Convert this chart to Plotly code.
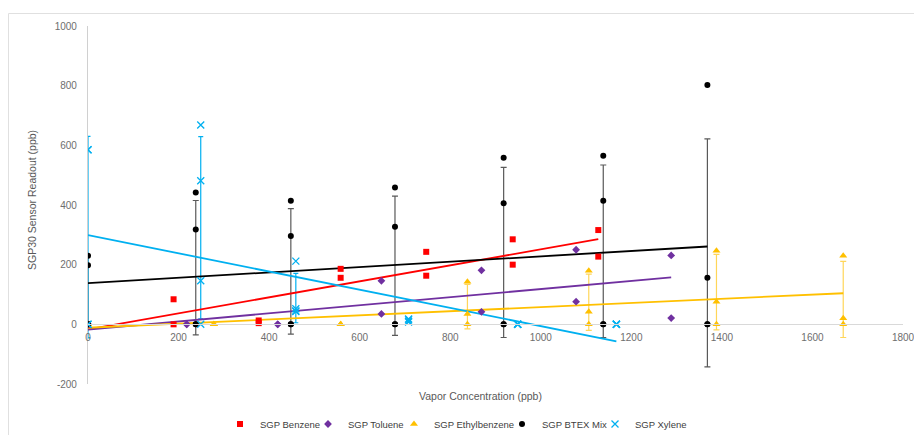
import numpy as np
import plotly.graph_objects as go

# ---------------- data ----------------
benzene_x = [0, 0, 189, 189, 377, 377, 558, 558, 747, 747, 938, 938, 1127, 1127]
benzene_y = [0, 0, 84, 0, 13, 4, 186, 156, 243, 163, 285, 200, 316, 227]

toluene_x = [0, 0, 218, 218, 419, 419, 648, 648, 869, 869, 1078, 1078, 1288, 1288]
toluene_y = [0, 0, 0, 0, 0, 0, 146, 35, 181, 42, 250, 76, 231, 21]

ethyl_x = [0, 0, 0, 278, 278, 278, 558, 558, 558, 838, 838, 838,
           1106, 1106, 1106, 1388, 1388, 1388, 1668, 1668, 1668]
ethyl_y = [0, 0, 0, 0, 0, 0, 0, 0, 0, 143, 35, 0,
           180, 42, 0, 247, 76, 0, 230, 20, 0]

btex_x = [0, 0, 0, 0, 238, 238, 238, 238, 448, 448, 448, 448,
          678, 678, 678, 678, 918, 918, 918, 918, 1138, 1138, 1138, 1138,
          1368, 1368, 1368, 1368]
btex_y = [230, 198, 0, 0, 442, 318, 0, 0, 414, 296, 0, 0,
          459, 327, 0, 0, 558, 406, 0, 0, 565, 414, 0, 0,
          802, 156, 0, 0]

xylene_x = [0, 0, 0, 0, 249, 249, 249, 249, 459, 459, 459, 459,
            708, 708, 708, 708, 949, 949, 949, 949, 1167, 1167, 1167, 1167]
xylene_y = [585, 585, 0, 0, 668, 481, 146, 0, 212, 52, 45, 43,
            18, 15, 10, 8, 0, 0, 0, 0, 0, 0, 0, 0]

series_names = ["SGP Benzene", "SGP Toluene", "SGP Ethylbenzene", "SGP BTEX Mix", "SGP Xylene"]
x_ticks = [0, 200, 400, 600, 800, 1000, 1200, 1400, 1600, 1800]
y_ticks = [-200, 0, 200, 400, 600, 800, 1000]

# ---------------- styling ----------------
styles = [
    dict(x=benzene_x, y=benzene_y, color="#FF0000", symbol="square", size=6, err=None, leg_px=239),
    dict(x=toluene_x, y=toluene_y, color="#7030A0", symbol="diamond", size=6, err=None, leg_px=327),
    dict(x=ethyl_x, y=ethyl_y, color="#FFC000", symbol="triangle-up", size=7,
         err=dict(color="rgba(255,192,0,0.65)", width=3), leg_px=413),
    dict(x=btex_x, y=btex_y, color="#000000", symbol="circle", size=6,
         err=dict(color="#595959", width=3), leg_px=521),
    dict(x=xylene_x, y=xylene_y, color="#00B0F0", symbol="x-thin", size=7,
         err=dict(color="#00B0F0", width=2.5), leg_px=614),
]

FONT = "Liberation Sans"
GRAY = "#595959"
TICK_GRAY = "#6E6E6E"

fig = go.Figure()

# error bars: mean +/- sample standard deviation of each replicate group
for s in styles:
    if s["err"] is None:
        continue
    xs = np.array(s["x"], dtype=float)
    ys = np.array(s["y"], dtype=float)
    gx, gm, gs = [], [], []
    for ux in np.unique(xs):
        vals = ys[xs == ux]
        if len(vals) > 1:
            sd = vals.std(ddof=1)
            if sd > 0:
                gx.append(ux)
                gm.append(vals.mean())
                gs.append(sd)
    fig.add_trace(go.Scatter(
        x=gx, y=gm, mode="markers", marker=dict(size=0.1, opacity=0),
        error_y=dict(type="data", array=gs, symmetric=True, visible=True,
                     color=s["err"]["color"], thickness=1.2, width=s["err"]["width"]),
        showlegend=False, hoverinfo="skip"))

# linear trendlines fitted to every replicate point
for s in styles:
    xs = np.array(s["x"], dtype=float)
    ys = np.array(s["y"], dtype=float)
    k, b = np.polyfit(xs, ys, 1)
    tx = np.array([xs.min(), xs.max()])
    fig.add_trace(go.Scatter(
        x=tx, y=k * tx + b, mode="lines",
        line=dict(color=s["color"], width=1.8),
        showlegend=False, hoverinfo="skip"))

W, H = 914, 435
L, R, T, B = 88, 11, 26, 51
pw, ph = W - L - R, H - T - B


def px_x(px):
    return (px - L) / pw


def px_y(py):
    return (H - B - py) / ph


# markers, each with its own legend box placed like the original legend
legend_layout = {}
for i, (name, s) in enumerate(zip(series_names, styles)):
    if s["symbol"] == "x-thin":
        marker = dict(symbol="x-thin", size=s["size"], color=s["color"],
                      line=dict(color=s["color"], width=1.3))
    else:
        marker = dict(symbol=s["symbol"], size=s["size"], color=s["color"],
                      line=dict(width=0))
    key = "legend" if i == 0 else f"legend{i + 1}"
    fig.add_trace(go.Scatter(x=s["x"], y=s["y"], mode="markers", name=name,
                             marker=marker, legend=key))
    legend_layout[key] = dict(
        orientation="h", x=px_x(s["leg_px"] - 19), y=px_y(424),
        xanchor="left", yanchor="middle",
        font=dict(family=FONT, size=9.5, color="#404040"),
        itemwidth=30, bgcolor="rgba(0,0,0,0)", borderwidth=0)

fig.update_layout(
    width=W, height=H, autosize=False,
    margin=dict(l=L, r=R, t=T, b=B, pad=0, autoexpand=False),
    paper_bgcolor="white", plot_bgcolor="white",
    font=dict(family=FONT, size=10, color=GRAY),
    showlegend=True,
    xaxis=dict(range=[0, 1800], tickvals=x_ticks, ticktext=[str(v) for v in x_ticks],
               showline=True, linecolor="#D9D9D9", linewidth=1.2,
               showgrid=False, zeroline=False, ticks="",
               anchor="free", position=(0 - (-200)) / 1200,
               ticklabeloverflow="allow",
               tickfont=dict(family=FONT, size=10, color=TICK_GRAY), ticklabelstandoff=4),
    yaxis=dict(range=[-200, 1000], tickvals=y_ticks, ticktext=[str(v) for v in y_ticks],
               showline=True, linecolor="#D0D0D0", linewidth=1.2,
               showgrid=False, zeroline=False, ticks="",
               tickfont=dict(family=FONT, size=10, color=TICK_GRAY), ticklabelstandoff=8),
    annotations=[
        dict(text="Vapor Concentration (ppb)", xref="paper", yref="paper",
             x=px_x(480), y=px_y(396), xanchor="center", yanchor="middle", showarrow=False,
             font=dict(family=FONT, size=10.5, color=GRAY)),
        dict(text="SGP30 Sensor Readout (ppb)", xref="paper", yref="paper",
             x=px_x(32), y=px_y(200), xanchor="center", yanchor="middle", showarrow=False,
             textangle=-90, font=dict(family=FONT, size=10.5, color=GRAY)),
    ],
    shapes=[
        dict(type="rect", xref="paper", yref="paper",
             x0=px_x(8.5), x1=px_x(916), y0=px_y(437), y1=px_y(13.5),
             line=dict(color="#E0E0E0", width=1), fillcolor="rgba(0,0,0,0)", layer="below"),
    ],
    **legend_layout,
)

fig.write_html("out.html")
